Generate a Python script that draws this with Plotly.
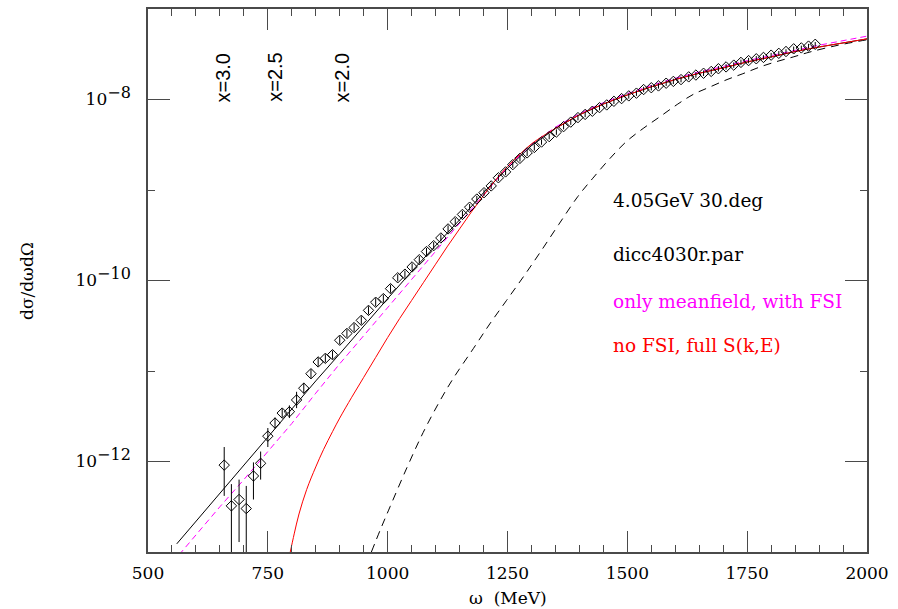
import plotly.graph_objects as go

# ---- measured cross section (log10 of dsigma/domega dOmega) ----
omega_data = [659, 674, 690, 705, 720, 735, 750, 765, 780, 795,
              810, 825, 840, 855, 870, 885, 900, 915, 930, 945,
              960, 975, 991, 1006, 1021, 1036, 1051, 1066, 1081, 1096,
              1111, 1126, 1141, 1156, 1171, 1186, 1201, 1216, 1231, 1246,
              1261, 1276, 1291, 1306, 1321, 1337, 1352, 1367, 1382, 1397,
              1412, 1427, 1442, 1457, 1472, 1488, 1503, 1519, 1534, 1550,
              1565, 1581, 1596, 1612, 1628, 1643, 1659, 1675, 1690, 1706,
              1722, 1737, 1753, 1769, 1784, 1800, 1816, 1831, 1847, 1863,
              1878, 1892]
log_sigma_data = [-12.04, -12.49, -12.42, -12.52, -12.16, -12.02, -11.72, -11.575, -11.465, -11.45,
                  -11.32, -11.19, -11.03, -10.90, -10.86, -10.82, -10.66, -10.585, -10.52, -10.44,
                  -10.33, -10.24, -10.20, -10.09, -9.97, -9.93, -9.85, -9.77, -9.68, -9.615,
                  -9.53, -9.43, -9.35, -9.27, -9.19, -9.10, -9.03, -8.955, -8.865, -8.80,
                  -8.72, -8.65, -8.59, -8.53, -8.47, -8.41, -8.36, -8.30, -8.25, -8.20,
                  -8.165, -8.13, -8.09, -8.06, -8.02, -7.99, -7.96, -7.93, -7.89, -7.87,
                  -7.85, -7.82, -7.80, -7.78, -7.75, -7.73, -7.71, -7.69, -7.66, -7.64,
                  -7.62, -7.59, -7.57, -7.55, -7.535, -7.51, -7.49, -7.47, -7.44, -7.43,
                  -7.41, -7.39]
# error bar half-lengths in decades (upper / lower); lower bars of 674 and 705 run off the axis
err_up_dex = [0.20, 0.24, 0.22, 0.25, 0.15, 0.13, 0.09, 0.06, 0.05, 0.07,
              0.09, 0.06, 0.05, 0.05,
              0.045, 0.045, 0.045, 0.045, 0.045, 0.045, 0.045, 0.045, 0.045, 0.045,
              0.04, 0.04, 0.04, 0.04, 0.04, 0.04, 0.04, 0.04, 0.04, 0.04,
              0.035, 0.035, 0.035, 0.035, 0.035, 0.035, 0.035, 0.035, 0.035, 0.035,
              0.03, 0.03, 0.03, 0.03, 0.03, 0.03, 0.03, 0.03, 0.03, 0.03,
              0.03, 0.03, 0.03, 0.03, 0.03, 0.03, 0.03, 0.03, 0.03, 0.03,
              0.03, 0.03, 0.03, 0.03, 0.03, 0.03, 0.03, 0.03, 0.03, 0.03,
              0.025, 0.025, 0.025, 0.025, 0.025, 0.025, 0.025, 0.025]
err_dn_dex = [0.34, 3.0, 0.47, 3.0, 0.26, 0.18, 0.12, 0.06, 0.05, 0.07,
              0.09, 0.06, 0.05, 0.05,
              0.045, 0.045, 0.045, 0.045, 0.045, 0.045, 0.045, 0.045, 0.045, 0.045,
              0.04, 0.04, 0.04, 0.04, 0.04, 0.04, 0.04, 0.04, 0.04, 0.04,
              0.035, 0.035, 0.035, 0.035, 0.035, 0.035, 0.035, 0.035, 0.035, 0.035,
              0.03, 0.03, 0.03, 0.03, 0.03, 0.03, 0.03, 0.03, 0.03, 0.03,
              0.03, 0.03, 0.03, 0.03, 0.03, 0.03, 0.03, 0.03, 0.03, 0.03,
              0.03, 0.03, 0.03, 0.03, 0.03, 0.03, 0.03, 0.03, 0.03, 0.03,
              0.025, 0.025, 0.025, 0.025, 0.025, 0.025, 0.025, 0.025]

# ---- calculations ----
# full calculation (black solid)
omega_full = [560, 600, 650, 700, 750, 800, 850, 900, 950, 1000, 1050, 1100, 1150, 1200,
              1250, 1300, 1350, 1400, 1450, 1500, 1550, 1600, 1650, 1700, 1750, 1800,
              1850, 1900, 1950, 2000]
log_full = [-12.91, -12.66, -12.35, -12.04, -11.73, -11.42, -11.11, -10.81, -10.50, -10.20,
            -9.90, -9.62, -9.33, -9.03, -8.76, -8.51, -8.32, -8.17, -8.05, -7.95,
            -7.86, -7.78, -7.71, -7.65, -7.585, -7.53, -7.47, -7.42, -7.375, -7.33]

# only meanfield, with FSI (magenta dashed)
omega_mf = [565, 600, 650, 700, 750, 800, 850, 900, 950, 1000, 1050, 1100, 1150, 1200,
            1250, 1300, 1350, 1400, 1450, 1500, 1550, 1600, 1650, 1700, 1750, 1800,
            1850, 1900, 1950, 2000]
log_mf = [-13.03, -12.81, -12.50, -12.20, -11.89, -11.58, -11.245, -10.92, -10.61, -10.30,
          -9.99, -9.68, -9.37, -9.05, -8.745, -8.495, -8.305, -8.155, -8.035, -7.935,
          -7.845, -7.765, -7.695, -7.635, -7.57, -7.515, -7.455, -7.40, -7.35, -7.30]

# no FSI, full S(k,E) (red solid)
omega_nofsi = [796, 805, 815, 831, 850, 866, 885, 900, 925, 950, 975, 1000, 1025, 1050,
               1075, 1100, 1125, 1150, 1175, 1200, 1225, 1250, 1275, 1300, 1325, 1350,
               1400, 1450, 1500, 1550, 1600, 1650, 1700, 1750, 1800, 1850, 1900, 1950, 2000]
log_nofsi = [-13.02, -12.80, -12.58, -12.31, -12.06, -11.87, -11.67, -11.52, -11.29, -11.07,
             -10.85, -10.63, -10.42, -10.22, -10.02, -9.82, -9.62, -9.43, -9.24, -9.06,
             -8.89, -8.74, -8.61, -8.49, -8.40, -8.32, -8.17, -8.05, -7.95, -7.86,
             -7.78, -7.71, -7.65, -7.585, -7.53, -7.47, -7.42, -7.375, -7.33]

# no FSI, meanfield only (black dashed)
omega_pwia = [966, 985, 1005, 1040, 1074, 1109, 1137, 1179, 1213, 1248, 1283, 1318, 1357,
              1397, 1428, 1464, 1499, 1533, 1568, 1604, 1637, 1673, 1708, 1741, 1777,
              1812, 1846, 1881, 1940, 2000]
log_pwia = [-13.0, -12.75, -12.50, -12.07, -11.68, -11.33, -11.08, -10.75, -10.48, -10.22,
            -9.96, -9.69, -9.38, -9.07, -8.87, -8.65, -8.46, -8.32, -8.19, -8.055,
            -7.945, -7.86, -7.78, -7.715, -7.64, -7.58, -7.53, -7.475, -7.40, -7.34]

# Bjorken-x markers along the top
xb_labels = ["x=3.0", "x=2.5", "x=2.0"]
xb_omega = [656, 765, 904]

y_tickvals = [1e-12, 1e-10, 1e-8]
y_exponents = ["\u221212", "\u221210", "\u22128"]
y_minorvals = [1e-13, 1e-11, 1e-9, 1e-7]
x_tickvals = [500, 750, 1000, 1250, 1500, 1750, 2000]


def pw(vals):
    return [10.0 ** v for v in vals]


sigma = pw(log_sigma_data)
err_plus = [10.0 ** (v + u) - 10.0 ** v for v, u in zip(log_sigma_data, err_up_dex)]
err_minus = [10.0 ** v - 10.0 ** (v - d) for v, d in zip(log_sigma_data, err_dn_dex)]
y_ticktext = ["10<sup><span style='font-size:16px'>%s</span></sup>" % e for e in y_exponents]

SERIF = "DejaVu Serif"
AXIS_COL = "#4a4a4a"

fig = go.Figure()

fig.add_trace(go.Scatter(x=omega_pwia, y=pw(log_pwia), mode="lines", line_shape="spline",
                         line=dict(color="black", width=1, dash="8px,6px"), showlegend=False))
fig.add_trace(go.Scatter(x=omega_full, y=pw(log_full), mode="lines",
                         line=dict(color="black", width=1), showlegend=False))
fig.add_trace(go.Scatter(x=omega_mf, y=pw(log_mf), mode="lines",
                         line=dict(color="#ff00ff", width=1, dash="6px,4px"), showlegend=False))
fig.add_trace(go.Scatter(x=omega_nofsi, y=pw(log_nofsi), mode="lines", line_shape="spline",
                         line=dict(color="#ff0000", width=1), showlegend=False))
fig.add_trace(go.Scatter(x=omega_data, y=sigma, mode="markers",
                         marker=dict(symbol="diamond-open", size=8, color="black",
                                     line=dict(width=1, color="black")),
                         error_y=dict(type="data", array=err_plus, arrayminus=err_minus,
                                      symmetric=False, width=0, thickness=1, color="black"),
                         showlegend=False))

axis_common = dict(showline=True, linecolor=AXIS_COL, linewidth=1.5, mirror="ticks",
                   ticks="inside", tickcolor=AXIS_COL, tickwidth=1, showgrid=False,
                   zeroline=False, tickfont=dict(family=SERIF, size=17, color="black"))

fig.update_xaxes(range=[500, 2000], tickmode="array", tickvals=x_tickvals, ticklen=21,
                 ticklabelstandoff=5,
                 minor=dict(dtick=50, tick0=500, ticks="inside", ticklen=7,
                            tickcolor=AXIS_COL, tickwidth=1, showgrid=False),
                 **axis_common)
fig.update_yaxes(type="log", range=[-13, -7], tickmode="array", tickvals=y_tickvals,
                 ticktext=y_ticktext, ticklen=22, ticklabelstandoff=12,
                 minor=dict(tickmode="array", tickvals=y_minorvals, ticks="inside", ticklen=7,
                            tickcolor=AXIS_COL, tickwidth=1, showgrid=False),
                 **axis_common)

annotations = [
    dict(text="\u03c9  (MeV)", xref="paper", yref="paper", x=0.5, y=-0.085,
         xanchor="center", yanchor="middle", showarrow=False,
         font=dict(family=SERIF, size=17, color="black")),
    dict(text="d\u03c3/d\u03c9d\u03a9", xref="paper", yref="paper", x=-0.169, y=0.5,
         xanchor="center", yanchor="middle", textangle=-90, showarrow=False,
         font=dict(family=SERIF, size=17, color="black")),
]
legend_lines = [("4.05GeV 30.deg", "black", 199),
                ("dicc4030r.par", "black", 253),
                ("only meanfield, with FSI", "#ff00ff", 301),
                ("no FSI, full S(k,E)", "#ff0000", 345)]
plot_top, plot_h = 7, 545
for txt, col, ypx in legend_lines:
    annotations.append(dict(text=txt, xref="x", yref="paper", x=1466, xanchor="left",
                            y=1 - (ypx - plot_top) / plot_h, yanchor="middle",
                            showarrow=False,
                            font=dict(family=SERIF, size=18.5, color=col)))
for lab, xo in zip(xb_labels, xb_omega):
    annotations.append(dict(text=lab, x=xo, xref="x", y=1 - (76 - plot_top) / plot_h,
                            yref="paper", textangle=-90, xanchor="center", yanchor="middle",
                            showarrow=False,
                            font=dict(family="Liberation Sans", size=20, color="black")))

fig.update_layout(width=898, height=609, margin=dict(l=148, r=31, t=7, b=57),
                  paper_bgcolor="white", plot_bgcolor="white", annotations=annotations)

fig.write_html("out.html")
